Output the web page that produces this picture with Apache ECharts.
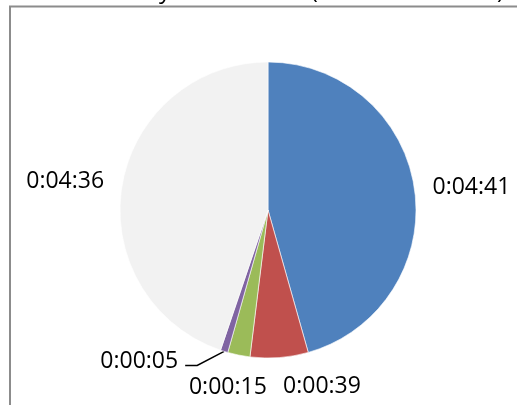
<!DOCTYPE html>
<html>
<head>
<meta charset="utf-8">
<script src="https://cdn.jsdelivr.net/npm/echarts@6/dist/echarts.min.js"></script>
<style>
  html, body { margin: 0; padding: 0; background: #fff; }
  #chart { width: 517px; height: 405px; }
</style>
</head>
<body>
<div id="chart"></div>
<script>
// Durations per status, in seconds (labels show h:mm:ss)
const categories = ['Status A', 'Status B', 'Status C', 'Status D', 'Status E'];
const durations = [281, 39, 15, 5, 276];
const sliceColors = ['#4F81BD', '#C0504D', '#9BBB59', '#8064A2', '#F2F2F2'];
const titleText = 'Total time by each status (mean hh:mm:ss)';

function fmt(sec) {
  const h = Math.floor(sec / 3600);
  const m = Math.floor((sec % 3600) / 60);
  const s = sec % 60;
  return h + ':' + String(m).padStart(2, '0') + ':' + String(s).padStart(2, '0');
}

// per-slice label nudges (dx, dy) applied after the default outside layout
const labelShift = [[0, -1], [-5, 19], [38, 23], [-35, 1], [0, -3]];

const chart = echarts.init(document.getElementById('chart'), null, { renderer: 'canvas' });

chart.setOption({
  animation: false,
  backgroundColor: '#ffffff',
  textStyle: { fontFamily: 'Open Sans' },
  graphic: [
    {
      type: 'rect',
      shape: { x: 10, y: 6.5, width: 540, height: 420 },
      style: { fill: 'none', stroke: '#8c8c8c', lineWidth: 2 },
      silent: true
    },
    {
      type: 'text',
      x: 265, y: 3,
      style: {
        text: titleText,
        fill: '#000',
        font: '24px "Open Sans"',
        align: 'center',
        verticalAlign: 'bottom'
      },
      silent: true
    }
  ],
  series: [{
    type: 'pie',
    center: [268, 210],
    radius: 148,
    startAngle: 90,
    clockwise: true,
    avoidLabelOverlap: false,
    data: categories.map((name, i) => ({
      name,
      value: durations[i],
      itemStyle: { color: sliceColors[i] },
      labelLine: { show: i === 3 }
    })),
    itemStyle: { borderColor: '#ffffff', borderWidth: 0.6 },
    label: {
      show: true,
      position: 'outside',
      formatter: p => fmt(p.value),
      fontFamily: 'Open Sans',
      fontSize: 23,
      color: '#000',
      distanceToLabelLine: 5
    },
    labelLine: {
      length: 10,
      length2: 3,
      lineStyle: { color: '#000', width: 1.5 }
    },
    labelLayout: function (params) {
      const i = params.dataIndex;
      const d = labelShift[i];
      const out = { dx: d[0], dy: d[1] };
      if (i === 3 && params.labelLinePoints) {
        // leader from the slice edge to the lower right corner of the moved label
        const r = params.labelRect;
        const right = r.x + r.width + d[0];
        const bottom = r.y + r.height + d[1] - 8;
        out.labelLinePoints = [
          params.labelLinePoints[0],
          [right + 19, bottom],
          [right + 7, bottom]
        ];
      }
      return out;
    },
    emphasis: { disabled: true }
  }]
});
</script>
</body>
</html>
